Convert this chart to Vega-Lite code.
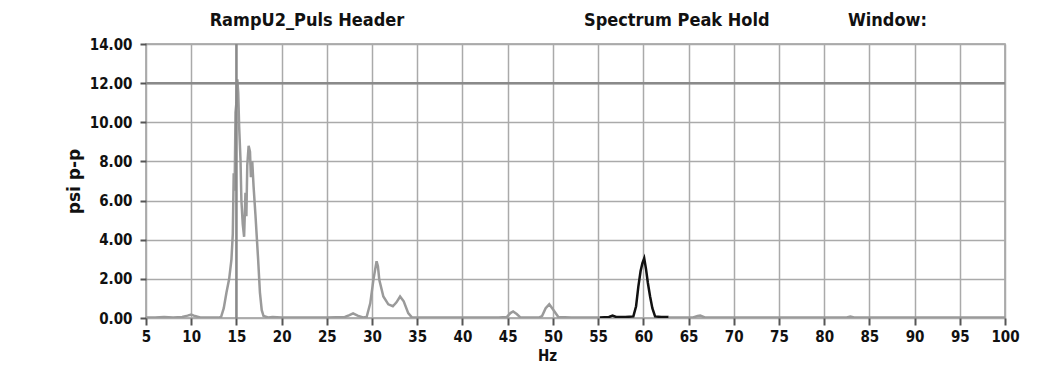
{
  "$schema": "https://vega.github.io/schema/vega-lite/v6.json",
  "width": 859,
  "height": 274,
  "autosize": "none",
  "padding": {"left": 146, "top": 44, "right": 37, "bottom": 47},
  "background": "white",
  "config": {
    "view": {"stroke": "#999", "strokeWidth": 1.5},
    "font": "DejaVu Sans Condensed, DejaVu Sans",
    "axis": {
      "labelFont": "DejaVu Sans Condensed, DejaVu Sans", "labelFontWeight": "bold", "labelFontSize": 15, "labelColor": "#111",
      "titleFont": "DejaVu Sans Condensed, DejaVu Sans", "titleFontWeight": "bold", "titleFontSize": 14, "titleColor": "#111",
      "gridColor": "#aaa", "gridWidth": 1.5, "tickColor": "#555", "domain": false, "labelOverlap": false
    }
  },
  "encoding": {
    "x": {"field": "hz", "type": "quantitative", "title": "Hz",
      "scale": {"domain": [5, 100], "nice": false, "zero": false},
      "axis": {"values": [5,10,15,20,25,30,35,40,45,50,55,60,65,70,75,80,85,90,95,100],
        "tickSize": 7, "tickWidth": 2, "labelPadding": 4, "labelFlush": false, "labelOverlap": false,
        "titleX": 401, "titleY": 37, "titleBaseline": "middle", "titleFontSize": 15}},
    "y": {"field": "v", "type": "quantitative", "title": "psi p-p",
      "scale": {"domain": [0, 14], "nice": false},
      "axis": {"values": [0,2,4,6,8,10,12,14], "format": ".2f", "tickSize": 6, "tickWidth": 2,
        "labelPadding": 8, "titlePadding": 6, "labelOverlap": false,
        "titleFont": "DejaVu Sans", "titleFontSize": 17}}
  },
  "layer": [
    {
      "data": {"values": [
        {"s":"g1","hz":5,"v":0.02},{"s":"g1","hz":6,"v":0.03},{"s":"g1","hz":7,"v":0.05},{"s":"g1","hz":8,"v":0.03},{"s":"g1","hz":9,"v":0.05},
        {"s":"g1","hz":9.6,"v":0.12},{"s":"g1","hz":10,"v":0.18},{"s":"g1","hz":10.4,"v":0.1},{"s":"g1","hz":11,"v":0.03},{"s":"g1","hz":12,"v":0.02},
        {"s":"g1","hz":13,"v":0.02},{"s":"g1","hz":13.3,"v":0.05},{"s":"g1","hz":13.6,"v":0.5},{"s":"g1","hz":13.9,"v":1.3},{"s":"g1","hz":14.2,"v":2.0},
        {"s":"g1","hz":14.45,"v":3.0},{"s":"g1","hz":14.6,"v":4.3},{"s":"g1","hz":14.7,"v":7.4},{"s":"g1","hz":14.8,"v":6.5},{"s":"g1","hz":14.9,"v":10.5},
        {"s":"g1","hz":15.0,"v":11.0},{"s":"g1","hz":15.1,"v":12.2},{"s":"g1","hz":15.2,"v":11.5},{"s":"g1","hz":15.3,"v":9.8},{"s":"g1","hz":15.45,"v":8.1},
        {"s":"g1","hz":15.55,"v":6.0},{"s":"g1","hz":15.7,"v":4.8},{"s":"g1","hz":15.85,"v":4.15},{"s":"g1","hz":16.0,"v":6.4},{"s":"g1","hz":16.1,"v":5.2},
        {"s":"g1","hz":16.2,"v":7.8},{"s":"g1","hz":16.35,"v":8.8},{"s":"g1","hz":16.5,"v":8.5},{"s":"g1","hz":16.6,"v":7.2},{"s":"g1","hz":16.75,"v":8.0},
        {"s":"g1","hz":16.9,"v":6.7},{"s":"g1","hz":17.1,"v":5.3},{"s":"g1","hz":17.4,"v":3.0},{"s":"g1","hz":17.6,"v":1.3},{"s":"g1","hz":17.8,"v":0.4},
        {"s":"g1","hz":18.0,"v":0.1},{"s":"g1","hz":18.5,"v":0.03},{"s":"g1","hz":19,"v":0.05},{"s":"g1","hz":20,"v":0.02},{"s":"g1","hz":22,"v":0.03},
        {"s":"g1","hz":25,"v":0.02},{"s":"g1","hz":27,"v":0.05},{"s":"g1","hz":27.5,"v":0.15},{"s":"g1","hz":27.9,"v":0.24},{"s":"g1","hz":28.4,"v":0.12},
        {"s":"g1","hz":29,"v":0.03},{"s":"g1","hz":29.4,"v":0.05},{"s":"g1","hz":29.8,"v":0.75},{"s":"g1","hz":30.15,"v":1.95},{"s":"g1","hz":30.5,"v":2.9},
        {"s":"g1","hz":30.65,"v":2.65},{"s":"g1","hz":30.8,"v":1.95},{"s":"g1","hz":31.25,"v":1.1},{"s":"g1","hz":31.8,"v":0.7},{"s":"g1","hz":32.3,"v":0.6},
        {"s":"g1","hz":32.7,"v":0.8},{"s":"g1","hz":33.1,"v":1.1},{"s":"g1","hz":33.5,"v":0.85},{"s":"g1","hz":34.0,"v":0.25},{"s":"g1","hz":34.4,"v":0.03},
        {"s":"g1","hz":36,"v":0.02},{"s":"g1","hz":40,"v":0.02},{"s":"g1","hz":44,"v":0.03},{"s":"g1","hz":44.9,"v":0.05},{"s":"g1","hz":45.3,"v":0.25},
        {"s":"g1","hz":45.6,"v":0.33},{"s":"g1","hz":46.0,"v":0.2},{"s":"g1","hz":46.4,"v":0.03},{"s":"g1","hz":47,"v":0.02},{"s":"g1","hz":48.5,"v":0.03},
        {"s":"g1","hz":48.8,"v":0.1},{"s":"g1","hz":49.2,"v":0.5},{"s":"g1","hz":49.6,"v":0.7},{"s":"g1","hz":50.0,"v":0.45},{"s":"g1","hz":50.6,"v":0.05},
        {"s":"g1","hz":52,"v":0.02},{"s":"g1","hz":55.2,"v":0.03},
        {"s":"k","hz":55.2,"v":0.03},{"s":"k","hz":56.2,"v":0.05},{"s":"k","hz":56.6,"v":0.12},{"s":"k","hz":57.0,"v":0.05},{"s":"k","hz":58,"v":0.05},
        {"s":"k","hz":58.9,"v":0.08},{"s":"k","hz":59.2,"v":0.6},{"s":"k","hz":59.45,"v":1.6},{"s":"k","hz":59.7,"v":2.4},{"s":"k","hz":59.9,"v":2.8},
        {"s":"k","hz":60.1,"v":3.05},{"s":"k","hz":60.3,"v":2.5},{"s":"k","hz":60.5,"v":1.8},{"s":"k","hz":60.75,"v":1.1},{"s":"k","hz":61.0,"v":0.5},
        {"s":"k","hz":61.3,"v":0.08},{"s":"k","hz":62,"v":0.05},{"s":"k","hz":62.8,"v":0.05},
        {"s":"g2","hz":62.8,"v":0.03},{"s":"g2","hz":65.5,"v":0.03},{"s":"g2","hz":66.0,"v":0.1},{"s":"g2","hz":66.3,"v":0.12},{"s":"g2","hz":66.8,"v":0.03},
        {"s":"g2","hz":70,"v":0.02},{"s":"g2","hz":75,"v":0.02},{"s":"g2","hz":80,"v":0.02},{"s":"g2","hz":82.5,"v":0.03},{"s":"g2","hz":82.9,"v":0.08},
        {"s":"g2","hz":83.3,"v":0.03},{"s":"g2","hz":88,"v":0.02},{"s":"g2","hz":95,"v":0.02},{"s":"g2","hz":100,"v":0.02}
      ]},
      "mark": {"type": "line", "strokeWidth": 2.5, "clip": true},
      "encoding": {
        "color": {"field": "s", "type": "nominal", "legend": null,
          "scale": {"domain": ["g1", "k", "g2"], "range": ["#9a9a9a", "#111111", "#9a9a9a"]}},
        "detail": {"field": "s"}
      }
    },
    {
      "data": {"values": [
        {"hz": 22.8, "v": 15.15, "label": "RampU2_Puls Header"},
        {"hz": 63.7, "v": 15.15, "label": "Spectrum Peak Hold"},
        {"hz": 87.0, "v": 15.15, "label": "Window:"}
      ]},
      "mark": {"type": "text", "font": "DejaVu Sans Condensed, DejaVu Sans", "fontWeight": "bold", "fontSize": 18, "color": "#111", "clip": false, "baseline": "middle"},
      "encoding": {"text": {"field": "label"}}
    },
    {
      "data": {"values": [{"hz": 15, "v": 12}]},
      "mark": {"type": "rule", "color": "#8a8a8a", "strokeWidth": 2.5},
      "encoding": {"x": null}
    },
    {
      "data": {"values": [{"hz": 15, "v": 12}]},
      "mark": {"type": "rule", "color": "#8a8a8a", "strokeWidth": 2.5},
      "encoding": {"y": null}
    }
  ]
}
